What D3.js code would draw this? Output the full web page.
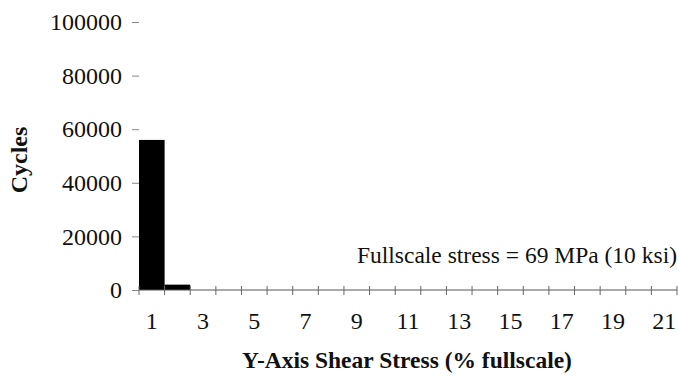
<!DOCTYPE html>
<html>
<head>
<meta charset="utf-8">
<script src="https://cdn.jsdelivr.net/npm/d3@7"></script>
<style>
  html, body { margin: 0; padding: 0; background: #fff; }
  svg { display: block; }
</style>
</head>
<body>
<svg id="chart" width="678" height="383"></svg>
<script>
// Shear stress bins (% of fullscale) and cycle counts
const categories = ["1","2","3","4","5","6","7","8","9","10","11","12","13","14","15","16","17","18","19","20","21"];
const cycles = [56000, 2000, 0, 0, 0, 0, 0, 0, 0, 0, 0, 0, 0, 0, 0, 0, 0, 0, 0, 0, 0];
const xTickLabels = ["1","3","5","7","9","11","13","15","17","19","21"];
const yTickValues = [0, 20000, 40000, 60000, 80000, 100000];

const serif = "Liberation Serif";
const ink = "#111";
const svg = d3.select("#chart");
const plotLeft = 139, plotRight = 677, plotTop = 22, plotBottom = 290;

const x = d3.scaleBand().domain(categories).range([plotLeft, plotRight]).padding(0);
const y = d3.scaleLinear().domain([0, 100000]).range([plotBottom, plotTop]);

// bars
svg.append("g").selectAll("rect")
  .data(categories.map((c, i) => ({ c, v: cycles[i] })))
  .join("rect")
  .attr("x", d => x(d.c))
  .attr("y", d => y(d.v))
  .attr("width", x.bandwidth())
  .attr("height", d => y(0) - y(d.v))
  .attr("fill", "#000");

// y axis: short ticks only, no spine
const yAxis = d3.axisLeft(y).tickValues(yTickValues).tickSize(7).tickPadding(10)
  .tickFormat(d3.format("d"));
const gy = svg.append("g").attr("transform", `translate(${plotLeft},0)`).call(yAxis);
gy.select(".domain").remove();
gy.selectAll(".tick line").attr("stroke", "#888");
gy.selectAll(".tick text")
  .attr("font-family", serif).style("font-family", serif)
  .attr("font-size", 24).style("font-size", "24px")
  .attr("fill", ink);

// x axis baseline with ticks at bin edges
const edges = categories.map(c => x(c)).concat([x(categories[categories.length - 1]) + x.bandwidth()]);
svg.append("line")
  .attr("x1", plotLeft).attr("x2", plotRight)
  .attr("y1", y(0)).attr("y2", y(0))
  .attr("stroke", "#555").attr("stroke-width", 1);
svg.append("g").selectAll("line")
  .data(edges)
  .join("line")
  .attr("x1", d => d).attr("x2", d => d)
  .attr("y1", y(0) - 4).attr("y2", y(0) + 5)
  .attr("stroke", "#666");

// x tick labels on odd bins
svg.append("g").selectAll("text")
  .data(xTickLabels)
  .join("text")
  .attr("x", d => x(d) + x.bandwidth() / 2)
  .attr("y", 329)
  .attr("text-anchor", "middle")
  .attr("font-family", serif).style("font-family", serif)
  .attr("font-size", 24)
  .attr("fill", ink)
  .text(d => d);

// axis titles
svg.append("text")
  .attr("transform", "translate(27,160) rotate(-90)")
  .attr("text-anchor", "middle")
  .attr("font-family", serif).style("font-family", serif)
  .attr("font-size", 24)
  .attr("font-weight", "bold")
  .attr("fill", ink)
  .text("Cycles");

svg.append("text")
  .attr("x", 407).attr("y", 368)
  .attr("text-anchor", "middle")
  .attr("font-family", serif).style("font-family", serif)
  .attr("font-size", 23.5)
  .attr("font-weight", "bold")
  .attr("fill", ink)
  .text("Y-Axis Shear Stress (% fullscale)");

// annotation
svg.append("text")
  .attr("x", 677).attr("y", 263)
  .attr("text-anchor", "end")
  .attr("font-family", serif).style("font-family", serif)
  .attr("font-size", 23.5)
  .attr("fill", ink)
  .text("Fullscale stress = 69 MPa (10 ksi)");
</script>
</body>
</html>
